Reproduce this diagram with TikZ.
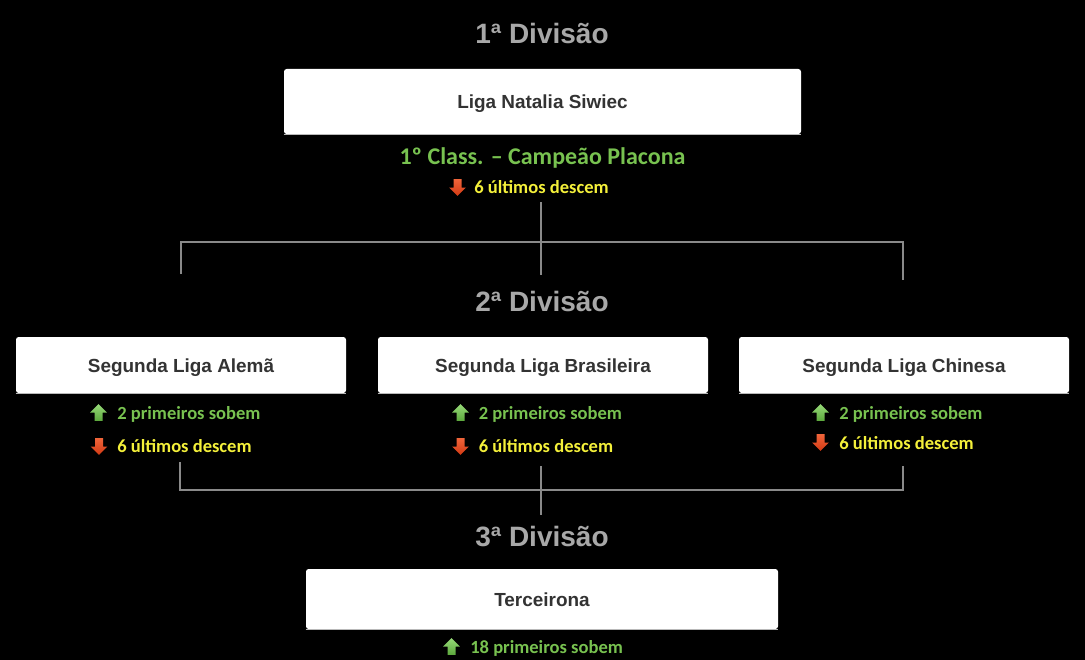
\documentclass[tikz,border=0pt]{standalone}
\usepackage{fontspec}
\setmainfont{Liberation Sans}
\newfontfamily\calfont{Carlito}
\definecolor{titlegray}{HTML}{A8A8A8}
\definecolor{boxtext}{HTML}{333333}
\definecolor{lblgreen}{HTML}{78C250}
\definecolor{lblyellow}{HTML}{F4F03A}
\definecolor{linegray}{HTML}{8A8A8A}
\definecolor{upl}{HTML}{96D978}
\definecolor{upd}{HTML}{5CA83C}
\definecolor{dnl}{HTML}{F0643A}
\definecolor{dnd}{HTML}{D23A14}
\begin{document}
\begin{tikzpicture}[x=0.75pt,y=-0.75pt,
  divtitle/.style={font=\fontsize{21}{21}\selectfont\bfseries, text=titlegray, anchor=base, inner sep=0},
  league/.style={fill=white, rounded corners=2pt, inner sep=0, text=boxtext,
     text height=10.6pt, text depth=0pt,
     font=\fontsize{14.2}{14.2}\selectfont\bfseries},
  champ/.style={font=\calfont\fontsize{18}{18}\selectfont\bfseries, text=lblgreen, anchor=base, inner sep=0},
  uplbl/.style={font=\calfont\fontsize{13.9}{13.9}\selectfont\bfseries, text=lblgreen, anchor=base west, inner sep=0},
  dnlbl/.style={font=\calfont\fontsize{13.9}{13.9}\selectfont\bfseries, text=lblyellow, anchor=base west, inner sep=0},
  conn/.style={draw=linegray, line width=1.1pt},
  uparrow/.pic={\shade[top color=upl, bottom color=upd] (-8.3,0) -- (0,-8.3) -- (8.3,0) -- (4,0) -- (4,8.3) -- (-4,8.3) -- (-4,0) -- cycle;},
  dnarrow/.pic={\shade[top color=dnl, bottom color=dnd] (-8.3,0) -- (0,8.3) -- (8.3,0) -- (4,0) -- (4,-8.3) -- (-4,-8.3) -- (-4,0) -- cycle;}
]
\fill[black] (0,0) rectangle (1085,660);
\useasboundingbox (0,0) rectangle (1085,660);

% Division 1
\node[divtitle] (d1) at (542,43.3) {1ª Divisão};
\node[league, minimum width={517*0.75pt}, minimum height={65*0.75pt}] (liga1) at (542.5,101.5) {Liga Natalia Siwiec};
\draw[linegray!60, line width=0.8pt] (liga1.south west) -- (liga1.south east);
\node[champ] (champ) at (542.5,164.5) {1º Class. – Campeão Placona};
\pic at (457.5,187.5) {dnarrow};
\node[dnlbl] (l1dn) at (474,193.5) {6 últimos descem};

% connector 1
\coordinate (c1top) at (541,202);
\coordinate (c1bot) at (541,275);
\coordinate (c1l) at (181,242);
\coordinate (c1r) at (903,242);
\coordinate (c1lb) at (181,274);
\coordinate (c1rb) at (903,280);
\draw[conn] (c1lb) -- (c1l) -- (c1r) -- (c1rb);
\draw[conn] (c1top) -- (c1bot);

% Division 2
\node[divtitle] (d2) at (542,311.5) {2ª Divisão};
\node[league, minimum width={330*0.75pt}, minimum height={56*0.75pt}] (ligaA) at (181,365) {Segunda Liga Alemã};
\node[league, minimum width={330*0.75pt}, minimum height={56*0.75pt}] (ligaB) at (543,365) {Segunda Liga Brasileira};
\node[league, minimum width={330*0.75pt}, minimum height={56*0.75pt}] (ligaC) at (904,365) {Segunda Liga Chinesa};
\foreach \n in {ligaA,ligaB,ligaC}{\draw[linegray!60, line width=0.8pt] (\n.south west) -- (\n.south east);}

\pic at (98.5,412.5) {uparrow};
\node[uplbl] (aup) at (117,419) {2 primeiros sobem};
\pic at (99,446.5) {dnarrow};
\node[dnlbl] (adn) at (117,452.7) {6 últimos descem};

\pic at (460.5,412.5) {uparrow};
\node[uplbl] (bup) at (478.5,419) {2 primeiros sobem};
\pic at (460.5,446.5) {dnarrow};
\node[dnlbl] (bdn) at (478.5,452.7) {6 últimos descem};

\pic at (820.5,412.5) {uparrow};
\node[uplbl] (cup) at (839,419) {2 primeiros sobem};
\pic at (820.5,442.5) {dnarrow};
\node[dnlbl] (cdn) at (839,449) {6 últimos descem};

% connector 2
\coordinate (c2la) at (180,462);
\coordinate (c2l) at (180,490);
\coordinate (c2r) at (903,490);
\coordinate (c2ra) at (903,466);
\coordinate (c2top) at (541,466);
\coordinate (c2bot) at (541,515);
\draw[conn] (c2la) -- (c2l) -- (c2r) -- (c2ra);
\draw[conn] (c2top) -- (c2bot);

% Division 3
\node[divtitle] (d3) at (542,546.7) {3ª Divisão};
\node[league, minimum width={472*0.75pt}, minimum height={60*0.75pt}] (liga3) at (542,599) {Terceirona};
\draw[linegray!60, line width=0.8pt] (liga3.south west) -- (liga3.south east);
\pic at (451.5,646.5) {uparrow};
\node[uplbl] (tup) at (470,653) {18 primeiros sobem};
\end{tikzpicture}
\end{document}
